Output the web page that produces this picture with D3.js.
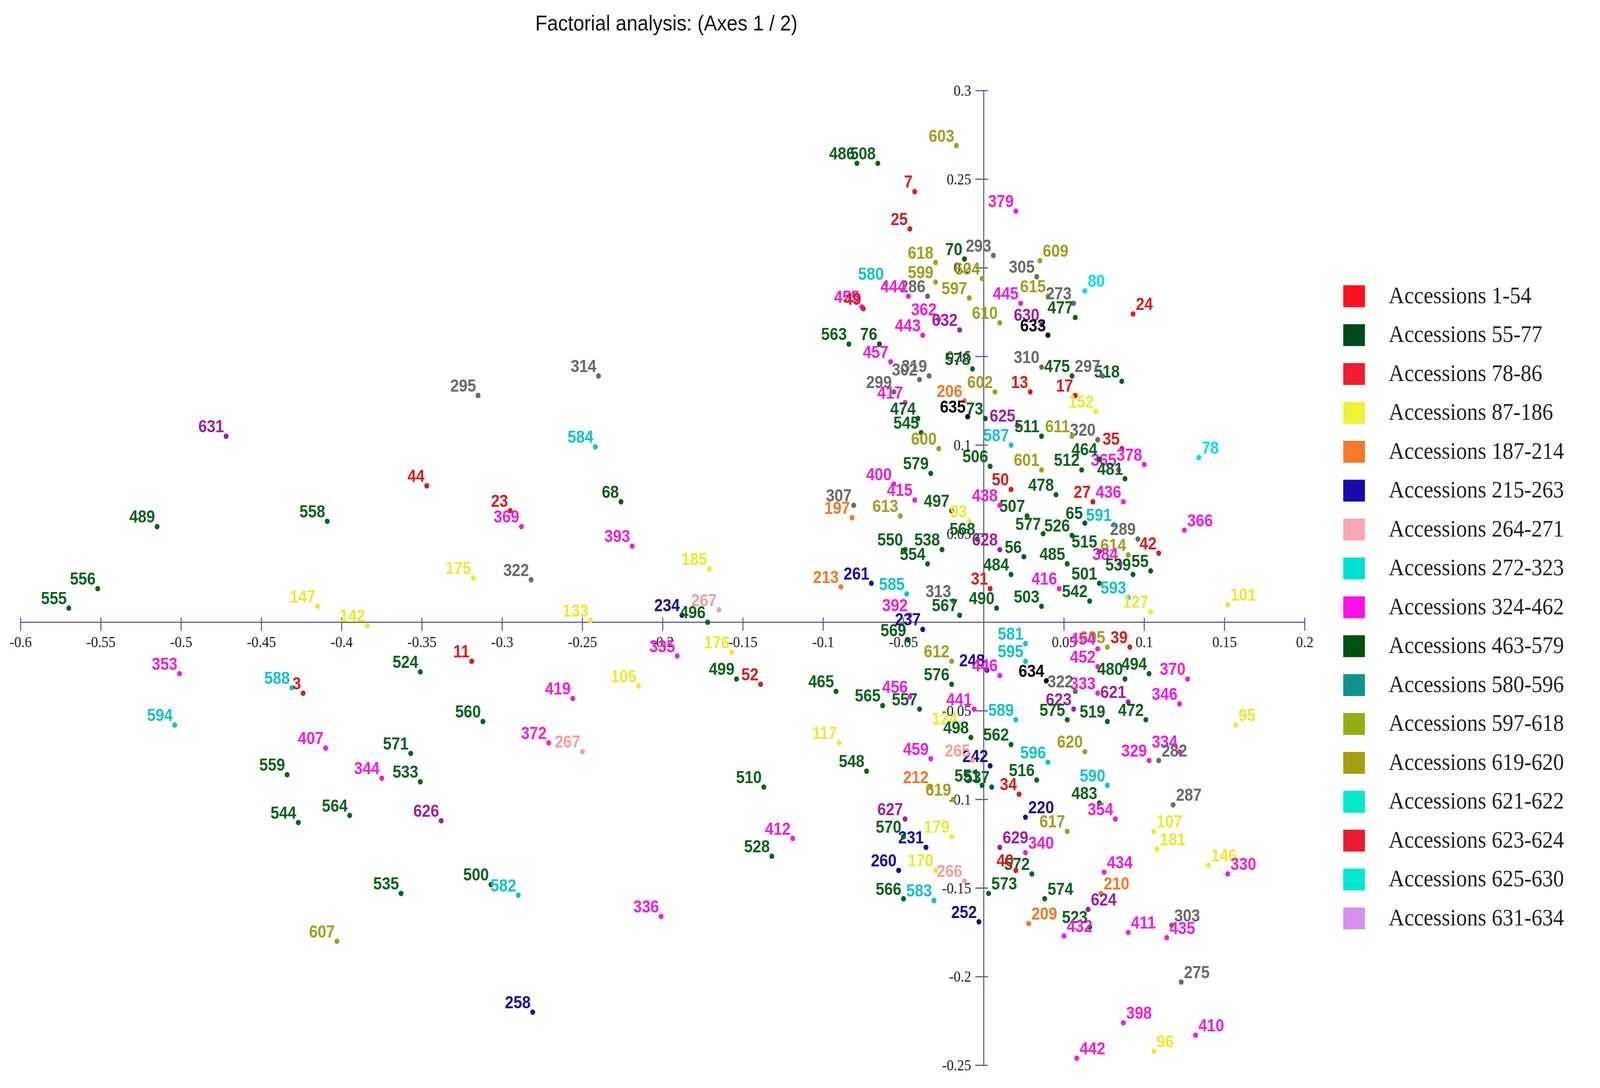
<!DOCTYPE html>
<html><head><meta charset="utf-8">
<script src="https://cdn.jsdelivr.net/npm/d3@7"></script>
<style>html,body{margin:0;padding:0;width:100%;height:100%;overflow:hidden;background:#fff}svg{display:block;width:100vw;height:100vh}</style></head>
<body><svg id="c" viewBox="0 0 4574 2784" preserveAspectRatio="none"></svg>
<script>
// [id, axis1, axis2]
const leftPoints = [
[555,-0.570,0.008],[556,-0.552,0.019],[489,-0.515,0.054],[631,-0.472,0.105],[558,-0.409,0.057],
[44,-0.347,0.077],[295,-0.315,0.128],[23,-0.295,0.063],[369,-0.288,0.054],[314,-0.240,0.139],
[584,-0.242,0.099],[68,-0.226,0.068],[393,-0.219,0.043],[175,-0.318,0.025],[322,-0.282,0.024],
[147,-0.415,0.009],[142,-0.384,-0.002],[133,-0.245,0.001],[185,-0.171,0.030],[234,-0.188,0.004],
[496,-0.172,0.000],[267,-0.165,0.007],[353,-0.501,-0.029],[594,-0.504,-0.058],[588,-0.431,-0.037],
[3,-0.424,-0.040],[524,-0.351,-0.028],[11,-0.319,-0.022],[335,-0.191,-0.019],[176,-0.157,-0.017],
[499,-0.154,-0.032],[52,-0.139,-0.035],[105,-0.215,-0.036],[419,-0.256,-0.043],[560,-0.312,-0.056],
[407,-0.410,-0.071],[571,-0.357,-0.074],[559,-0.434,-0.086],[344,-0.375,-0.088],[533,-0.351,-0.090],
[372,-0.271,-0.068],[267,-0.250,-0.073],[544,-0.427,-0.113],[564,-0.395,-0.109],[626,-0.338,-0.112],
[510,-0.137,-0.093],[412,-0.119,-0.122],[528,-0.132,-0.132],[535,-0.363,-0.153],[500,-0.307,-0.148],
[582,-0.290,-0.154],[336,-0.201,-0.166],[607,-0.403,-0.180],[258,-0.281,-0.220],[117,-0.090,-0.068],
[465,-0.092,-0.039],[565,-0.063,-0.047],[548,-0.073,-0.084]
];
const topPoints = [
[486,-0.079,0.259],[508,-0.066,0.259],[603,-0.017,0.269],[7,-0.043,0.243],[25,-0.046,0.222],
[618,-0.030,0.203],[70,-0.012,0.205],[379,0.020,0.232],[293,0.006,0.207],[609,0.035,0.204],
[305,0.033,0.195],[80,0.063,0.187],[24,0.093,0.174],[518,0.086,0.136],[78,0.134,0.093],
[366,0.125,0.052],[614,0.090,0.038],[55,0.104,0.029],[101,0.152,0.010],[580,-0.061,0.191],
[455,-0.076,0.178],[49,-0.075,0.177],[599,-0.030,0.192],[604,-0.001,0.194],[597,-0.009,0.183],
[563,-0.084,0.157],[286,-0.035,0.184],[444,-0.047,0.184]
];
const upperCluster = [
[76,-0.065,0.157],[443,-0.038,0.162],[362,-0.028,0.171],[632,-0.015,0.165],[457,-0.058,0.147],
[299,-0.056,0.130],[302,-0.040,0.137],[319,-0.034,0.139],[417,-0.049,0.124],[206,-0.012,0.125],
[635,-0.010,0.116],[73,0.001,0.115],[474,-0.041,0.115],[545,-0.039,0.107],[600,-0.028,0.098],
[578,-0.007,0.143],[307,-0.081,0.066],[197,-0.082,0.059],[400,-0.056,0.078],[579,-0.033,0.084],
[415,-0.043,0.069],[497,-0.020,0.063],[93,-0.009,0.057],[613,-0.052,0.060],[568,-0.004,0.047],
[550,-0.049,0.041],[538,-0.026,0.041],[554,-0.035,0.033],[313,-0.019,0.012],[213,-0.089,0.020],
[261,-0.070,0.022],[585,-0.048,0.016],[392,-0.046,0.004],[567,-0.015,0.004],
[445,0.023,0.180],[615,0.040,0.184],[273,0.056,0.180],[610,0.010,0.169],[630,0.036,0.168],
[477,0.057,0.172],[633,0.040,0.162],[310,0.036,0.144],[475,0.055,0.139],[297,0.074,0.139],
[13,0.029,0.130],[17,0.057,0.128],[602,0.007,0.130],[152,0.070,0.119],[625,0.021,0.111],
[320,0.071,0.103],[35,0.086,0.098],[587,0.017,0.100],[511,0.036,0.105],[611,0.055,0.105],
[506,0.004,0.088],[601,0.036,0.086],[512,0.061,0.086],[365,0.084,0.086],[378,0.100,0.089],
[481,0.088,0.081],[464,0.072,0.092],[50,0.017,0.075],[478,0.045,0.072],[27,0.068,0.068],
[436,0.087,0.068],[507,0.027,0.060],[65,0.063,0.056],[591,0.081,0.055],[577,0.037,0.050],
[526,0.055,0.049],[289,0.096,0.047],[515,0.072,0.040],[628,0.010,0.041],[56,0.025,0.037],
[485,0.052,0.033],[384,0.085,0.033],[42,0.109,0.039],[539,0.093,0.027],[484,0.017,0.027],
[501,0.072,0.022],[416,0.047,0.019],[542,0.066,0.012],[593,0.090,0.014],[127,0.104,0.006],
[490,0.008,0.008],[503,0.036,0.009],[31,0.004,0.019],[438,0.010,0.066]
];
const lowerCluster = [
[237,-0.038,-0.004],[612,-0.020,-0.022],[569,-0.047,-0.010],[576,-0.020,-0.035],[557,-0.040,-0.049],
[456,-0.046,-0.042],[441,-0.006,-0.049],[459,-0.033,-0.077],[212,-0.033,-0.093],[619,-0.019,-0.100],
[551,-0.001,-0.092],[537,0.005,-0.093],[220,0.026,-0.110],[124,-0.015,-0.060],[498,-0.008,-0.065],
[562,0.017,-0.069],[589,0.020,-0.055],[242,0.004,-0.081],[265,-0.007,-0.078],[596,0.040,-0.079],
[620,0.063,-0.073],[590,0.077,-0.092],[483,0.072,-0.102],[617,0.052,-0.118],[354,0.082,-0.111],
[516,0.033,-0.089],[34,0.022,-0.097],[634,0.039,-0.033],[595,0.026,-0.022],[605,0.077,-0.014],
[39,0.091,-0.014],[494,0.103,-0.029],[480,0.088,-0.032],[370,0.127,-0.032],[346,0.122,-0.046],
[621,0.090,-0.045],[623,0.056,-0.049],[333,0.071,-0.040],[322,0.057,-0.039],[519,0.077,-0.056],
[472,0.101,-0.055],[329,0.103,-0.078],[334,0.122,-0.073],[452,0.071,-0.025],[454,0.071,-0.015],
[248,0.002,-0.027],[446,0.010,-0.030],[581,0.026,-0.012],[575,0.052,-0.055],
[95,0.157,-0.058],[282,0.109,-0.078],[287,0.118,-0.103],[107,0.106,-0.118],[181,0.108,-0.128],
[146,0.140,-0.137],[330,0.152,-0.142],[434,0.075,-0.141],[210,0.073,-0.153],[624,0.065,-0.162],
[303,0.117,-0.171],[435,0.114,-0.178],[411,0.090,-0.175],[523,0.066,-0.172],[432,0.050,-0.177],
[209,0.028,-0.170],[275,0.123,-0.203],[398,0.087,-0.226],[410,0.132,-0.233],[96,0.106,-0.242],
[442,0.058,-0.246],[252,-0.003,-0.169],[573,0.003,-0.153],[574,0.038,-0.156],[572,0.030,-0.142],
[566,-0.050,-0.156],[583,-0.031,-0.157],[260,-0.053,-0.140],[231,-0.036,-0.127],[266,-0.012,-0.146],
[629,0.010,-0.127],[340,0.026,-0.130],[40,0.020,-0.140],[170,-0.030,-0.140],[179,-0.020,-0.121],
[627,-0.049,-0.111],[570,-0.050,-0.121]
];
const rightLabels = [275,287,303,330,434,210,624,411,435,209,432,398,410,96,442,573,574,95,146,181,220,629,340,282,107,78,366,101,24,80,609];
const xTicks = [-0.6,-0.55,-0.5,-0.45,-0.4,-0.35,-0.3,-0.25,-0.2,-0.15,-0.1,-0.05,0.05,0.1,0.15,0.2];
const yTicks = [0.3,0.25,0.2,0.15,0.1,0.05,-0.05,-0.1,-0.15,-0.2,-0.25];
const legendLabels = ["Accessions 1-54","Accessions 55-77","Accessions 78-86","Accessions 87-186","Accessions 187-214","Accessions 215-263","Accessions 264-271","Accessions 272-323","Accessions 324-462","Accessions 463-579","Accessions 580-596","Accessions 597-618","Accessions 619-620","Accessions 621-622","Accessions 623-624","Accessions 625-630","Accessions 631-634"];
const legendColors = ["#ff1020","#004a1c","#f01c30","#f0f034","#f47a2a","#1a0aa8","#f8a8b0","#00e0d0","#ff10e8","#005010","#10938f","#8fb010","#a0a010","#00e8cc","#e81c30","#00e8d0","#d890f0"];

function colorOf(id){
  if(id<=54) return "#d81e1e";
  if(id<=77) return "#0a5a1e";
  if(id<=86) return "#00e0e8";
  if(id<=186) return "#eaea30";
  if(id<=214) return "#f07a28";
  if(id<=263) return "#1a0a9a";
  if(id<=271) return "#f4a0a0";
  if(id<=323) return "#6a6a6a";
  if(id<=462) return "#f020d8";
  if(id<=579) return "#0a6220";
  if(id<=596) return "#10c4c8";
  if(id<=620) return "#a0a020";
  if(id<=632) return "#a020a0";
  return "#000000";
}

const svg = d3.select("#c");
const x = d3.scaleLinear().domain([-0.6,0.2]).range([59,3730]);
const y = d3.scaleLinear().domain([-0.25,0.3]).range([2726,232]);
const axisCol = "#5a5a88";

svg.append("text").attr("x",1905).attr("y",78).attr("text-anchor","middle")
  .attr("font-family","Liberation Sans, Arial").attr("font-size",56).attr("fill","#111")
  .text("Factorial analysis: (Axes 1 / 2)");

const xa = svg.append("g").attr("transform",`translate(0,${y(0)})`);
xa.append("line").attr("x1",x(-0.6)).attr("x2",x(0.2)).attr("stroke",axisCol).attr("stroke-width",3);
xTicks.forEach(t=>{
  xa.append("line").attr("x1",x(t)).attr("x2",x(t)).attr("y1",-12).attr("y2",22).attr("stroke",axisCol).attr("stroke-width",3);
  xa.append("text").attr("x",x(t)).attr("y",64).attr("text-anchor","middle").attr("font-family","Liberation Serif, Times New Roman").attr("font-size",40).attr("fill","#222").text(t);
});
const ya = svg.append("g").attr("transform",`translate(${x(0)},0)`);
ya.append("line").attr("y1",y(0.3)).attr("y2",y(-0.25)).attr("stroke",axisCol).attr("stroke-width",3);
yTicks.forEach(t=>{
  ya.append("line").attr("y1",y(t)).attr("y2",y(t)).attr("x1",-24).attr("x2",12).attr("stroke",axisCol).attr("stroke-width",3);
  ya.append("text").attr("x",-36).attr("y",y(t)+13).attr("text-anchor","end").attr("font-family","Liberation Serif, Times New Roman").attr("font-size",40).attr("fill","#222").text(t);
});

const all = [...leftPoints,...topPoints,...upperCluster,...lowerCluster];
const g = svg.append("g");
all.forEach(([id,a,b])=>{
  const c = colorOf(id), px=x(a), py=y(b);
  g.append("circle").attr("cx",px).attr("cy",py).attr("r",7).attr("fill",c);
  const right = rightLabels.includes(id);
  g.append("text").attr("x",right?px+8:px-6).attr("y",py-10)
   .attr("text-anchor",right?"start":"end")
   .attr("font-family","Liberation Sans, Arial").attr("font-weight","bold").attr("font-size",44)
   .attr("fill",c).text(id);
});

const lg = svg.append("g").attr("transform","translate(3840,730)");
legendLabels.forEach((l,i)=>{
  lg.append("rect").attr("x",0).attr("y",i*99.5).attr("width",62).attr("height",56).attr("fill",legendColors[i]);
  lg.append("text").attr("x",130).attr("y",i*99.5+46).attr("font-family","Liberation Serif, Times New Roman").attr("font-size",62).attr("fill","#222").text(l);
});
</script></body></html>
